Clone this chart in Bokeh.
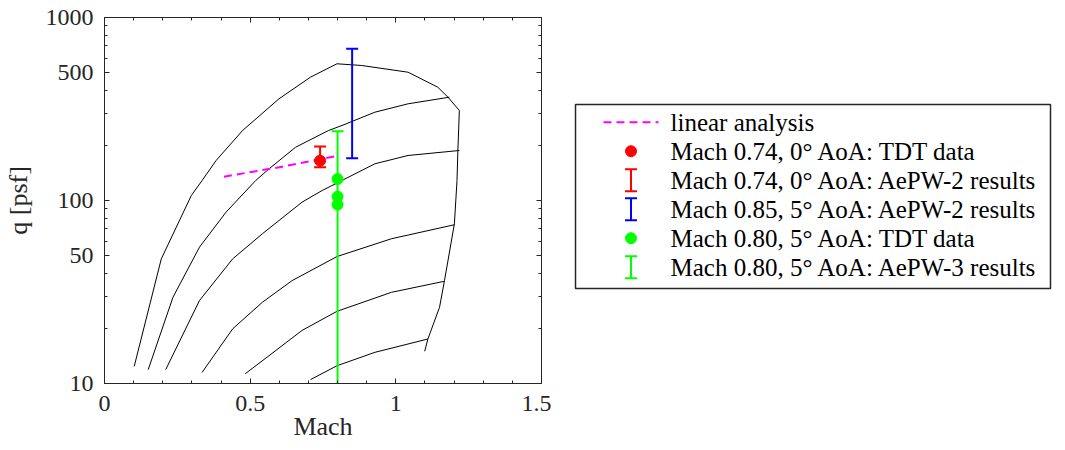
from bokeh.plotting import figure
from bokeh.models import FixedTicker, LinearAxis, LogAxis
from bokeh.layouts import row
from bokeh.embed import file_html
from bokeh.resources import INLINE
from bokeh.core.properties import value

FONT = "Liberation Serif"
AX = "#262626"

# ---------------- data ----------------
# TDT operating envelope curves (Mach, q [psf])
env_mach = [0.102, 0.195, 0.298, 0.335, 0.383, 0.474, 0.599, 0.707, 0.798, 0.883,
            1.042, 1.144, 1.179, 1.218, 1.213, 1.210, 1.201, 1.167, 1.150, 1.110, 1.099]
env_q = [12.4, 48.0, 106.5, 128.6, 165.4, 241.3, 359.5, 471.9, 558.5, 546.7,
         502.4, 415.9, 366.9, 310.3, 187.6, 128.6, 74.6, 36.5, 26.1, 17.5, 15.0]

c2_mach = [0.150, 0.235, 0.326, 0.417, 0.519, 0.565, 0.656, 0.769, 0.815, 0.928, 1.042, 1.184]
c2_q = [11.9, 29.6, 55.6, 86.3, 128.6, 149.0, 195.5, 241.3, 256.9, 303.7, 337.6, 366.9]

c3_mach = [0.210, 0.326, 0.440, 0.542, 0.678, 0.747, 0.815, 0.928, 1.042, 1.218]
c3_q = [11.9, 28.4, 48.0, 65.8, 97.9, 113.4, 128.6, 158.7, 176.2, 187.6]

c4_mach = [0.335, 0.440, 0.542, 0.644, 0.798, 0.985, 1.201]
c4_q = [11.5, 19.9, 27.8, 36.5, 49.4, 61.8, 73.7]

c5_mach = [0.483, 0.565, 0.678, 0.798, 0.985, 1.167]
c5_q = [11.3, 14.2, 19.5, 24.8, 31.5, 36.2]

c6_mach = [0.707, 0.798, 0.928, 1.110]
c6_q = [10.5, 12.5, 14.8, 17.5]

curves = [(env_mach, env_q), (c2_mach, c2_q), (c3_mach, c3_q),
          (c4_mach, c4_q), (c5_mach, c5_q), (c6_mach, c6_q)]

# linear analysis
lin_mach = [0.41, 0.60, 0.79]
lin_q = [135, 152, 174]

# Mach 0.74, 0 deg AoA
red_tdt_mach = [0.74]
red_tdt_q = [165]
red_err_mach = [0.74]
red_err_lo = [152]
red_err_hi = [197]

# Mach 0.85, 5 deg AoA AePW-2
blue_err_mach = [0.85]
blue_err_lo = [170]
blue_err_hi = [674]

# Mach 0.80, 5 deg AoA
green_tdt_mach = [0.80, 0.80, 0.80]
green_tdt_q = [131, 105, 95]
green_err_mach = [0.80]
green_err_lo = [1]
green_err_hi = [239]

x_ticks = [0, 0.5, 1, 1.5]
x_tick_labels = ["0", "0.5", "1", "1.5"]
x_minor = [0.1, 0.2, 0.3, 0.4, 0.6, 0.7, 0.8, 0.9, 1.1, 1.2, 1.3, 1.4]
y_ticks = [10, 50, 100, 500, 1000]
y_tick_labels = ["10", "50", "100", "500", "1000"]
y_minor = [20, 30, 40, 60, 70, 80, 90, 200, 300, 400, 600, 700, 800, 900]

x_label = "Mach"
y_label = "q [psf]"

legend_labels = [
    "linear analysis",
    "Mach 0.74, 0\u00b0 AoA: TDT data",
    "Mach 0.74, 0\u00b0 AoA: AePW-2 results",
    "Mach 0.85, 5\u00b0 AoA: AePW-2 results",
    "Mach 0.80, 5\u00b0 AoA: TDT data",
    "Mach 0.80, 5\u00b0 AoA: AePW-3 results",
]

RED = "#ff0000"
BLUE = "#0000ff"
GREEN = "#00ff00"
MAGENTA = "#ff00ff"

H = 450
BT = 17
FRAME_H = 366
BB = H - BT - FRAME_H

# ---------------- main plot ----------------
p = figure(width=551, height=H, x_range=(0, 1.5), y_range=(10, 1000),
           y_axis_type="log", output_backend="svg", toolbar_location=None,
           min_border_left=101, min_border_right=10, min_border_top=BT,
           min_border_bottom=BB, x_axis_label=x_label, y_axis_label=y_label)
p.grid.visible = False
p.outline_line_color = AX
p.outline_line_width = 1
p.background_fill_color = "white"
p.border_fill_color = "white"

xt = FixedTicker(ticks=x_ticks, minor_ticks=x_minor)
yt = FixedTicker(ticks=y_ticks, minor_ticks=y_minor)

top_ax = LinearAxis()
right_ax = LogAxis()
p.add_layout(top_ax, "above")
p.add_layout(right_ax, "right")

bottom_ax = p.below[0]
left_ax = p.left[0]


def style(ax):
    ax.axis_line_color = AX
    ax.axis_line_width = 1
    ax.major_tick_line_color = AX
    ax.minor_tick_line_color = AX
    ax.major_tick_in = 5
    ax.major_tick_out = 0
    ax.minor_tick_in = 3
    ax.minor_tick_out = 0
    ax.major_label_text_font = FONT
    ax.major_label_text_font_size = "24px"
    ax.major_label_text_color = AX
    ax.axis_label_text_font = FONT
    ax.axis_label_text_font_size = "26px"
    ax.axis_label_text_font_style = "normal"
    ax.axis_label_text_color = AX


for ax in (bottom_ax, top_ax):
    style(ax)
    ax.ticker = xt
for ax in (left_ax, right_ax):
    style(ax)
    ax.ticker = yt

# mirror axes: ticks only, no labels
for ax in (top_ax, right_ax):
    ax.major_label_text_font_size = "1px"
    ax.major_label_text_color = None
    ax.major_label_standoff = 0

bottom_ax.major_label_overrides = dict(zip(x_ticks, x_tick_labels))
left_ax.major_label_overrides = dict(zip(y_ticks, y_tick_labels))
bottom_ax.major_label_standoff = 12
bottom_ax.axis_label_standoff = -2
left_ax.major_label_standoff = 11
left_ax.axis_label_standoff = 10

for cm, cq in curves:
    p.line(cm, cq, line_color="black", line_width=1)

p.line(lin_mach, lin_q, line_color=MAGENTA, line_width=2, line_dash="8 5")

# green AePW-3 error bar
p.segment(x0=green_err_mach, y0=green_err_lo, x1=green_err_mach, y1=green_err_hi,
          line_color=GREEN, line_width=2)
p.scatter(x=green_err_mach, y=green_err_hi, marker="dash", size=12,
          line_color=GREEN, line_width=2)
# green TDT points
p.scatter(x=green_tdt_mach, y=green_tdt_q, marker="circle", size=11,
          fill_color=GREEN, line_color=GREEN)

# red AePW-2 error bar
p.segment(x0=red_err_mach, y0=red_err_lo, x1=red_err_mach, y1=red_err_hi,
          line_color=RED, line_width=2)
p.scatter(x=red_err_mach + red_err_mach, y=red_err_lo + red_err_hi, marker="dash",
          size=12, line_color=RED, line_width=2)
p.scatter(x=red_tdt_mach, y=red_tdt_q, marker="circle", size=11,
          fill_color=RED, line_color=RED)

# blue AePW-2 error bar
p.segment(x0=blue_err_mach, y0=blue_err_lo, x1=blue_err_mach, y1=blue_err_hi,
          line_color=BLUE, line_width=2)
p.scatter(x=blue_err_mach + blue_err_mach, y=blue_err_lo + blue_err_hi, marker="dash",
          size=12, line_color=BLUE, line_width=2)

# ---------------- legend (separate panel, pixel-like units) ----------------
FW = 490
lf = figure(width=14 + FW, height=H, x_range=(0, FW), y_range=(0, FRAME_H),
            output_backend="svg", toolbar_location=None,
            x_axis_location=None, y_axis_location=None,
            min_border_left=14, min_border_right=0, min_border_top=BT,
            min_border_bottom=BB)
lf.grid.visible = False
lf.outline_line_color = None

box_l, box_r = 10, 485
box_top, box_bot = FRAME_H - 87, FRAME_H - 271
lf.quad(left=[box_l], right=[box_r], bottom=[box_bot], top=[box_top],
        fill_color=None, line_color=AX, line_width=1.5)

row_y = [box_top - 17.7 - 29 * i for i in range(len(legend_labels))]
gx0, gx1 = box_l + 28, box_l + 83
gxc = (gx0 + gx1) / 2
half = 11

# row 0: dashed line
lf.line([gx0, gx1], [row_y[0], row_y[0]], line_color=MAGENTA, line_width=2, line_dash="8 5")
# row 1: red dot
lf.scatter([gxc], [row_y[1]], marker="circle", size=11, fill_color=RED, line_color=RED)
# rows 2,3,5: error bar symbols
for idx, col in ((2, RED), (3, BLUE), (5, GREEN)):
    lf.segment(x0=[gxc], y0=[row_y[idx] - half], x1=[gxc], y1=[row_y[idx] + half],
               line_color=col, line_width=2)
    lf.scatter([gxc, gxc], [row_y[idx] - half, row_y[idx] + half], marker="dash",
               size=12, line_color=col, line_width=2)
# row 4: green dot
lf.scatter([gxc], [row_y[4]], marker="circle", size=11, fill_color=GREEN, line_color=GREEN)

lf.text(x=[box_l + 95] * len(legend_labels), y=row_y, text=legend_labels,
        text_font=value(FONT), text_font_size="25px", text_baseline="middle",
        text_align="left", text_color="black")

layout = row(p, lf)
open("out.html", "w").write(file_html(layout, INLINE))
